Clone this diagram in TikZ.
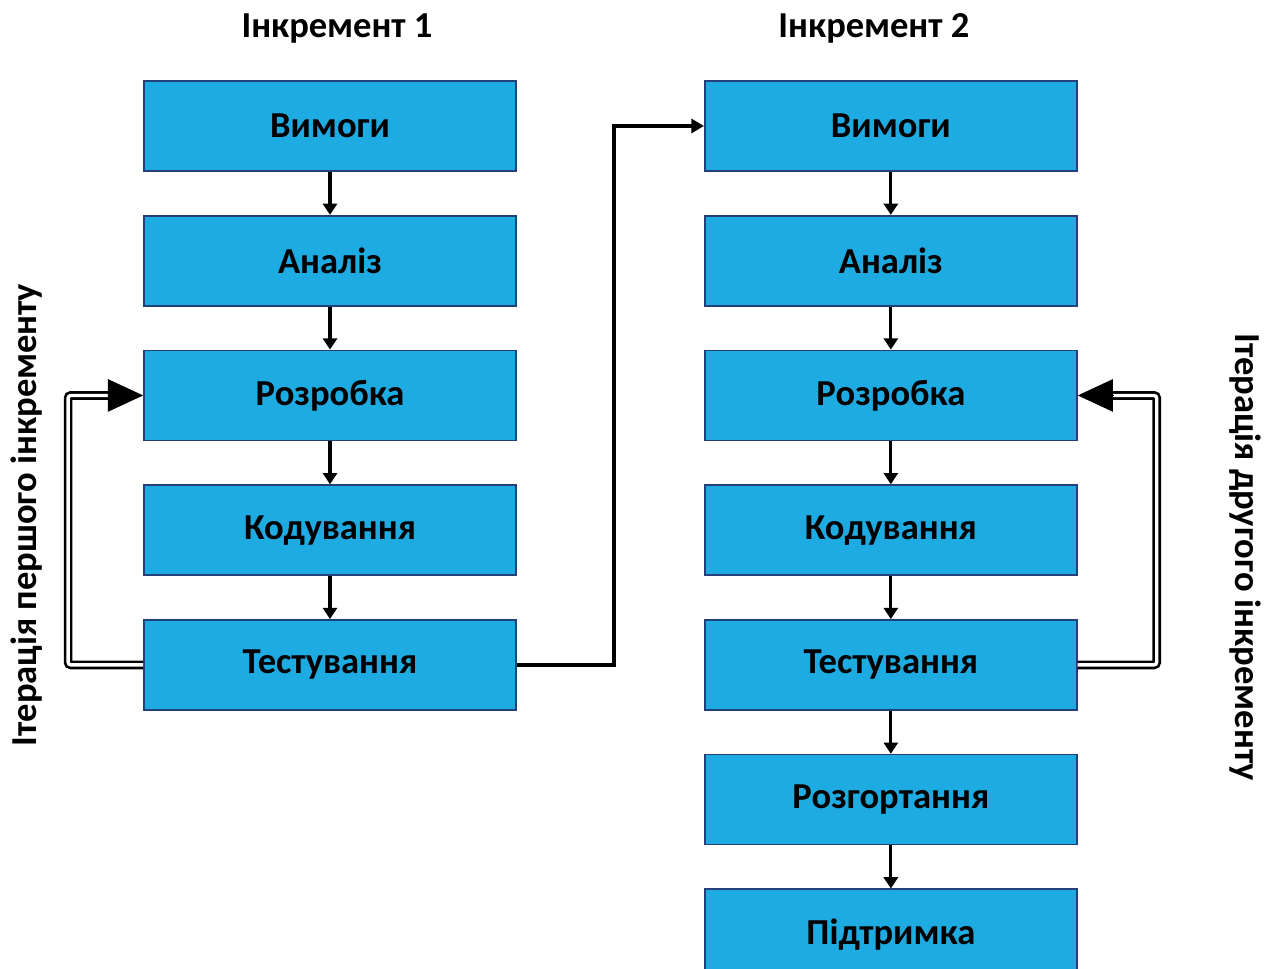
\documentclass[tikz,border=0pt]{standalone}
\usepackage{fontspec}
\setmainfont{Carlito}
\usetikzlibrary{positioning,arrows.meta}
\definecolor{phasefill}{RGB}{30,171,226}
\definecolor{phaseedge}{RGB}{35,64,122}

\begin{document}
\begin{tikzpicture}[x=0.025cm,y=-0.025cm,node distance=1.075cm,
      phase/.style={rectangle,draw=phaseedge,fill=phasefill,line width=1.2pt,
        minimum width=9.3cm,minimum height=2.25cm,
        font=\bfseries\fontsize{26}{30}\selectfont},
      title/.style={inner sep=0pt,font=\bfseries\fontsize{26}{30}\selectfont},
      flow/.style={-{Triangle[length=8pt,width=10pt]},line width=2.2pt},
      jump/.style={-{Triangle[length=9pt,width=10pt]},line width=2.8pt},
      loopline/.style={draw=black,double=white,double distance=2.4pt,
        line width=1.9pt,rounded corners=2pt},
      bigtip/.style={-{Triangle[length=25pt,width=23pt]},line width=1pt}]
  \useasboundingbox (0,0) rectangle (1267,968);
  % increment 1
  \node[phase] (v1) at (330,126) {Вимоги};
  \node[phase] (a1) [below=of v1] {Аналіз};
  \node[phase] (r1) [below=of a1] {Розробка};
  \node[phase] (k1) [below=of r1] {Кодування};
  \node[phase] (t1) [below=of k1] {Тестування};
  \node[title] (inc1) [above=0.92cm of v1,xshift=5pt] {Інкремент 1};
  % increment 2
  \node[phase] (v2) [right=4.675cm of v1] {Вимоги};
  \node[phase] (a2) [below=of v2] {Аналіз};
  \node[phase] (r2) [below=of a2] {Розробка};
  \node[phase] (k2) [below=of r2] {Кодування};
  \node[phase] (t2) [below=of k2] {Тестування};
  \node[phase] (g2) [below=of t2] {Розгортання};
  \node[phase] (p2) [below=of g2] {Підтримка};
  \node[title] (inc2) [above=0.92cm of v2,xshift=-12pt] {Інкремент 2};
  % side labels
  \node[title,rotate=90] (it1) at (27,515) {Ітерація першого інкременту};
  \node[title,rotate=-90] (it2) at (1245,557) {Ітерація другого інкременту};
  \path[flow]
    (v1) edge (a1) (a1) edge (r1) (r1) edge (k1) (k1) edge (t1)
    (v2) edge (a2) (a2) edge (r2) (r2) edge (k2) (k2) edge (t2)
    (t2) edge (g2) (g2) edge (p2);
  \draw[jump] (t1.east) -- ++(97,0) |- (v2.west);
  % iteration loops
  \draw[loopline] (t1.west) -- ++(-75,0) |- ([xshift=-24pt]r1.west);
  \draw[bigtip] ([xshift=-25pt]r1.west) -- (r1.west);
  \draw[loopline] (t2.east) -- ++(79,0) |- ([xshift=24pt]r2.east);
  \draw[bigtip] ([xshift=25pt]r2.east) -- (r2.east);
\end{tikzpicture}
\end{document}
